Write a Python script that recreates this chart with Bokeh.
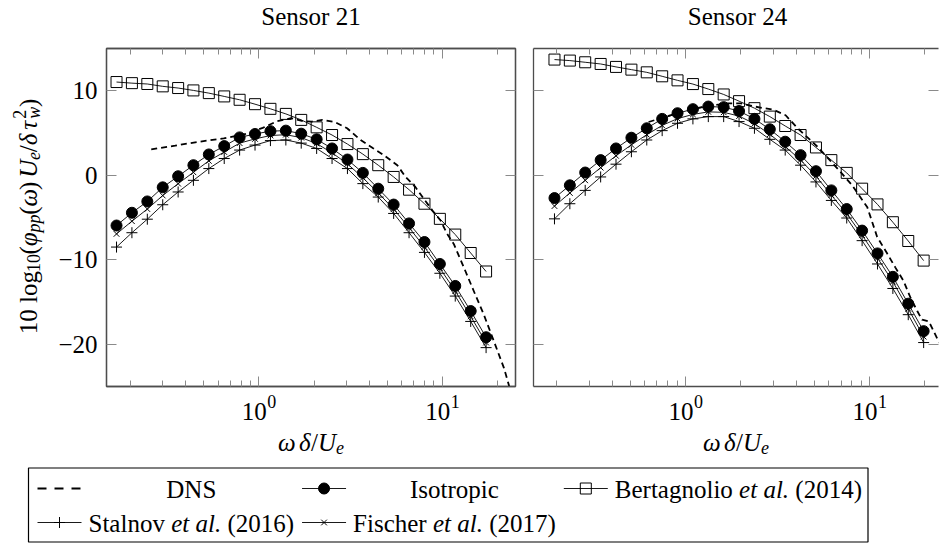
import math
from bokeh.plotting import figure
from bokeh.models import Range1d, LinearAxis, LogAxis, FixedTicker, Label
from bokeh.layouts import column, row
from bokeh.embed import file_html
from bokeh.resources import INLINE

# ---------------- data ----------------
panel_titles = ["Sensor 21", "Sensor 24"]
x_major_ticks = [1, 10]
x_major_exps = ["0", "1"]
x_minor_ticks = [0.2, 0.3, 0.4, 0.5, 0.6, 0.7, 0.8, 0.9, 2, 3, 4, 5, 6, 7, 8, 9, 20]
y_ticks = [-20, -10, 0, 10]
y_tick_labels = ["\u221220", "\u221210", "0", "10"]

# Sensor 21
x21 = [0.1675, 0.2032, 0.2466, 0.2992, 0.3631, 0.4399, 0.5337, 0.6477, 0.7857, 0.9534,
       1.157, 1.404, 1.703, 2.067, 2.508, 3.043, 3.692, 4.479, 5.435, 6.595,
       8.002, 9.71, 11.78, 14.30, 17.35]
iso21 = [-5.95, -4.44, -3.10, -1.43, -0.12, 1.19, 2.46, 3.45, 4.48, 4.88,
         5.22, 5.28, 4.92, 4.25, 3.17, 1.86, 0.28, -1.59, -3.47, -5.7,
         -7.9, -10.5, -13.1, -16.07, -19.17]
bert21 = [11.03, 10.9, 10.8, 10.52, 10.32, 10.04, 9.72, 9.33, 8.93, 8.41,
          7.86, 7.26, 6.55, 5.67, 4.76, 3.69, 2.5, 1.19, -0.2, -1.71,
          -3.37, -5.16, -7.02, -9.2, -11.39]
stal21 = [-8.5, -6.8, -5.2, -3.49, -1.98, -0.6, 0.79, 1.98, 2.98, 3.57,
          4.1, 4.17, 3.8, 3.17, 1.98, 0.79, -0.99, -2.58, -4.52, -6.8,
          -9.13, -11.6, -14.3, -17.3, -20.4]
fis21 = [-6.94, -5.44, -4.0, -2.4, -1.0, 0.35, 1.7, 2.75, 3.8, 4.3,
         4.7, 4.8, 4.45, 3.75, 2.65, 1.35, -0.3, -2.1, -4.0, -6.2,
         -8.5, -11.0, -13.7, -16.7, -19.8]
dns21_x = [0.259, 0.35, 0.45, 0.644, 0.85, 1.05, 1.26, 1.5, 1.75, 1.95, 2.22, 2.6, 3.03,
           3.59, 4.2, 4.81, 5.69, 6.31, 7.14, 8.0, 8.99, 9.8, 10.64, 11.56, 13.12,
           14.86, 16.87, 19.1, 21.7, 23.07, 24.5]
dns21_y = [3.06, 3.5, 3.9, 4.37, 4.9, 5.6, 6.4, 6.75, 6.4, 6.35, 6.55, 6.3, 5.56,
           4.17, 3.2, 2.38, 1.19, -0.2, -1.39, -2.9, -4.37, -5.36, -6.94, -8.13, -10.9,
           -13.7, -16.5, -19.6, -22.8, -24.8, -27.0]

# Sensor 24
x24 = [0.1941, 0.2353, 0.2851, 0.3459, 0.4192, 0.5082, 0.616, 0.7468, 0.9051, 1.0973,
       1.3301, 1.6123, 1.9545, 2.3693, 2.8721, 3.4816, 4.2205, 5.116, 6.202, 7.518,
       9.113, 11.047, 13.391, 16.234, 19.68]
iso24 = [-2.70, -1.19, 0.32, 1.79, 3.17, 4.44, 5.56, 6.67, 7.34, 7.82,
         8.13, 8.06, 7.6, 6.67, 5.44, 3.97, 2.38, 0.48, -1.79, -4.0,
         -6.55, -9.25, -12.02, -15.2, -18.45]
bert24 = [13.69, 13.57, 13.37, 13.17, 12.82, 12.5, 12.18, 11.71, 11.23, 10.79,
          10.2, 9.56, 8.77, 7.94, 6.94, 5.83, 4.76, 3.29, 1.79, 0.28,
          -1.59, -3.45, -5.56, -7.78, -10.1]
stal24 = [-5.16, -3.37, -1.79, -0.2, 1.31, 2.78, 4.17, 5.28, 6.15, 6.67,
          6.94, 6.94, 6.35, 5.56, 4.25, 2.98, 1.19, -0.79, -2.98, -5.06,
          -7.74, -10.5, -13.4, -16.5, -19.8]
fis24 = [-3.65, -2.1, -0.6, 0.9, 2.3, 3.6, 4.8, 5.9, 6.7, 7.2,
         7.5, 7.45, 7.0, 6.1, 4.85, 3.4, 1.8, -0.1, -2.35, -4.55,
         -7.1, -9.8, -12.6, -15.8, -19.1]
dns24_x = [0.63, 0.8, 1.0, 1.3, 1.7, 2.0, 2.35, 3.0, 3.5, 4.05, 5.2, 6.95, 8.05, 9.73,
           11.0, 12.5, 13.8, 15.3, 16.7, 18.2, 19.3, 21.0, 23.3, 25.0]
dns24_y = [6.3, 7.0, 7.6, 8.2, 8.5, 8.5, 8.15, 7.75, 7.1, 5.6, 3.4, 0.4, -1.2, -3.8,
           -7.3, -9.3, -10.9, -12.5, -14.5, -16.1, -17.1, -17.3, -19.3, -20.5]

# ---------------- styling ----------------
FONT = "Liberation Serif"
FS = 25
SS = 18
FRAME = "#4d4d4d"
TICK = "#8a8a8a"
FIX = 7  # measured offset of Bokeh's alphabetic baseline

RG = {' ': 250, '(': 333, ')': 333, '.': 250, '/': 278, 'B': 667, 'D': 722, 'F': 556,
      'I': 333, 'N': 722, 'S': 556, 'U': 722, 'a': 444, 'c': 444, 'e': 444, 'g': 500,
      'h': 500, 'i': 278, 'l': 278, 'n': 500, 'o': 500, 'p': 500, 'r': 333, 's': 389,
      't': 278, 'v': 500, '\u2212': 564}
for d in "0123456789":
    RG[d] = 500
IT = {' ': 250, '.': 250, 'a': 500, 'e': 444, 'l': 278, 't': 278, 'p': 500, 'w': 667,
      'U': 722, '\u03c6': 560, '\u03c9': 680, '\u03b4': 480, '\u03c4': 440}


def tw(text, italic, size):
    tab = IT if italic else RG
    return sum(tab.get(ch, 500) for ch in text) * size / 1000.0


def mk_label(x, y, text, italic=False, size=FS, align="left", angle=0.0, units="data",
             x_units=None, x_offset=0.0):
    if angle == 0.0:
        y = y + FIX
    else:
        x = x - FIX
    return Label(x=x, y=y, x_units=x_units or units, y_units=units, text=text,
                 text_font=FONT, text_font_size=f"{size}px",
                 text_font_style="italic" if italic else "normal",
                 text_color="black", text_align=align, text_baseline="alphabetic",
                 angle=angle, x_offset=x_offset)


def piece_adv(pc):
    t, it, sz, sh, adv = pc
    return tw(t, it, sz) if adv is None else adv


def pieces_len(pcs):
    return sum(piece_adv(pc) for pc in pcs)


def place_h(fig, pcs, x0, y0, units="data"):
    x = x0
    for pc in pcs:
        t, it, sz, sh, adv = pc
        core = t.strip(" ")
        if core:
            lead = len(t) - len(t.lstrip(" "))
            fig.add_layout(mk_label(x + lead * 0.25 * sz, y0 - sh, core, it, sz, units=units))
        x += piece_adv(pc)
    return x


def place_v(fig, pcs, base_x, y0):
    y = y0
    for pc in pcs:
        t, it, sz, sh, adv = pc
        if t.strip():
            fig.add_layout(mk_label(base_x + sh, y, t, it, sz, angle=math.pi / 2))
        y += piece_adv(pc)
    return y


def strip(width, height, xr=None, log=False, mb_l=0, mb_r=0):
    kw = dict(width=width, height=height, output_backend="svg", toolbar_location=None,
              title=None, min_border_left=mb_l, min_border_right=mb_r,
              min_border_top=0, min_border_bottom=0,
              x_axis_location=None, y_axis_location=None, outline_line_color=None,
              y_range=Range1d(0, height))
    if log:
        kw["x_axis_type"] = "log"
    kw["x_range"] = xr if xr is not None else Range1d(0, width)
    f = figure(**kw)
    f.xgrid.visible = False
    f.ygrid.visible = False
    return f


def style_axis(ax, ticker, show_labels, line=True):
    ax.ticker = ticker
    ax.axis_line_color = FRAME if line else None
    ax.axis_line_width = 1.3
    ax.major_tick_in = 10
    ax.major_tick_out = 0
    ax.minor_tick_in = 6
    ax.minor_tick_out = 0
    ax.major_tick_line_color = TICK
    ax.minor_tick_line_color = TICK
    ax.major_tick_line_width = 1
    ax.minor_tick_line_width = 1
    if show_labels:
        ax.major_label_text_font = FONT
        ax.major_label_text_font_size = f"{FS}px"
        ax.major_label_text_color = "black"
        ax.major_label_standoff = 9
    else:
        ax.major_label_text_font_size = "1px"
        ax.major_label_text_color = None
        ax.major_label_standoff = 0


PH = 344  # panel figure height (top 4 + frame 338 + bottom 2)
xlabel_pcs = [("\u03c9", True, FS, 0, None), ("", False, FS, 0, 4),
              ("\u03b4", True, FS, 0, None), ("/", False, FS, 0, None),
              ("U", True, FS, 0, None), ("e", True, SS, 5, None)]
ylabel_pcs = [("10 log", False, FS, 0, None), ("10", False, SS, 5, None),
              ("(", False, FS, 0, None), ("\u03c6", True, FS, 0, None),
              ("pp", True, SS, 5, None), ("(", False, FS, 0, None),
              ("\u03c9", True, FS, 0, None), (")", False, FS, 0, None),
              ("", False, FS, 0, 4), ("U", True, FS, 0, None),
              ("e", True, SS, 5, None), ("/", False, FS, 0, None),
              ("\u03b4", True, FS, 0, None), ("", False, FS, 0, 4),
              ("\u03c4", True, FS, 0, None), ("2", False, SS, -9, 0),
              ("w", True, SS, 5, None), (")", False, FS, 0, None)]


def panel(idx, width, xr, mb_l, mb_r, xs, iso, bert, stal, fis, dx, dy):
    first = idx == 0
    p = figure(width=width, height=PH, x_axis_type="log", title=None,
               x_range=Range1d(*xr), y_range=Range1d(-25, 15),
               output_backend="svg", toolbar_location=None,
               min_border_left=mb_l, min_border_right=mb_r,
               min_border_top=4, min_border_bottom=2)
    p.xgrid.visible = False
    p.ygrid.visible = False
    xt = FixedTicker(ticks=x_major_ticks, minor_ticks=x_minor_ticks)
    yt = FixedTicker(ticks=y_ticks, minor_ticks=[])
    bottom = p.xaxis[0]
    left = p.yaxis[0]
    top = LogAxis()
    right = LinearAxis()
    p.add_layout(top, "above")
    p.add_layout(right, "right")
    style_axis(bottom, xt, False)
    style_axis(top, xt, False)
    style_axis(left, yt, first)
    style_axis(right, yt, False, line=first)
    if first:
        left.major_label_overrides = {t: s for t, s in zip(y_ticks, y_tick_labels)}
        p.outline_line_color = FRAME
        p.outline_line_width = 1.3
    else:
        p.outline_line_color = None

    # series (legend order)
    p.line(dx, dy, line_color="black", line_width=1.8, line_dash="6 4")
    p.line(xs, iso, line_color="black", line_width=0.9)
    p.scatter(xs, iso, marker="circle", size=11, fill_color="black", line_color="black")
    p.line(xs, bert, line_color="black", line_width=0.9)
    p.scatter(xs, bert, marker="square", size=11, fill_color=None, line_color="black",
              line_width=1)
    p.line(xs, stal, line_color="black", line_width=0.9)
    p.scatter(xs, stal, marker="cross", size=11, line_color="black", line_width=1)
    p.line(xs, fis, line_color="black", line_width=0.9)
    p.scatter(xs, fis, marker="x", size=8, line_color="black", line_width=1)
    return p


# row 1: y-label strip + two panels (picture x: frames 106-515 and 533-938)
p1 = panel(0, 474, (0.1477, 25.1), 56, 9, x21, iso21, bert21, stal21, fis21,
           dns21_x, dns21_y)
p2 = panel(1, 415, (0.1493, 23.7), 9, 1, x24, iso24, bert24, stal24, fis24,
           dns24_x, dns24_y)
ystrip = strip(50, PH)
Ly = pieces_len(ylabel_pcs)
place_v(ystrip, ylabel_pcs, 35, (PH - 2 - 169) - Ly / 2)

# title strip (picture y 0-44)
TH = 44
tstrip = strip(939, TH)
title_cx = [310.5, 737]
for cx, t in zip(title_cx, panel_titles):
    tstrip.add_layout(mk_label(cx, TH - 22.5, t, align="center"))

# bottom strips (picture y 388-464): x tick labels and x labels
BTOP = 388
BH = 76
b1 = strip(524, BH, xr=p1.x_range, log=True, mb_l=106, mb_r=9)
b2 = strip(415, BH, xr=p2.x_range, log=True, mb_l=9, mb_r=1)
for bf, fw in ((b1, 409), (b2, 405)):
    for t, e in zip(x_major_ticks, x_major_exps):
        wb = tw("10", False, FS)
        we = tw(e, False, SS)
        tot = wb + we
        bf.add_layout(mk_label(t, BTOP + BH - 418, "10", False, FS,
                               x_offset=-tot / 2))
        bf.add_layout(mk_label(t, BTOP + BH - 408, e, False, SS,
                               x_offset=-tot / 2 + wb + 0.5))
    L = pieces_len(xlabel_pcs)
    place_h(bf, xlabel_pcs, fw / 2 - L / 2, BTOP + BH - 449, units="screen")

# ---------------- legend (picture y 464-543) ----------------
LTOP = 464
LH = 79
leg = strip(939, LH)


def gy(py):
    return LTOP + LH - py


legend_entries = [
    ("dns", [("DNS", False)]),
    ("iso", [("Isotropic", False)]),
    ("bert", [("Bertagnolio ", False), ("et al.", True), (" (2014)", False)]),
    ("stal", [("Stalnov ", False), ("et al.", True), (" (2016)", False)]),
    ("fis", [("Fischer ", False), ("et al.", True), (" (2017)", False)]),
]


def ent_w(pcs):
    return sum(tw(t, it, FS) for t, it in pcs)


ents = dict(legend_entries)
cols = [["dns", "stal"], ["iso", "fis"], ["bert"]]
BOX_L = 28
IMG_W = 44
row_base = [496, 530]
row_mid = [488, 522]
x = BOX_L + 9
for col in cols:
    W = max(ent_w(ents[k]) for k in col)
    for r, k in enumerate(col):
        xa, xb = x, x + IMG_W
        ym = gy(row_mid[r])
        xm = (xa + xb) / 2
        if k == "dns":
            leg.line([xa, xb], [ym, ym], line_color="black", line_width=1.8,
                     line_dash="9 8")
        else:
            leg.line([xa, xb], [ym, ym], line_color="black", line_width=0.9)
            if k == "iso":
                leg.scatter([xm], [ym], marker="circle", size=11, fill_color="black",
                            line_color="black")
            elif k == "bert":
                leg.scatter([xm], [ym], marker="square", size=11, fill_color=None,
                            line_color="black", line_width=1)
            elif k == "stal":
                leg.scatter([xm], [ym], marker="cross", size=11, line_color="black",
                            line_width=1)
            else:
                leg.scatter([xm], [ym], marker="x", size=8, line_color="black",
                            line_width=1)
        tx = xb + 7 + (W - ent_w(ents[k])) / 2
        pcs = [(t, it, FS, 0, None) for t, it in ents[k]]
        place_h(leg, pcs, tx, gy(row_base[r]))
    x = xb + 7 + W + 8
box_r = x - 2
leg.quad(left=[BOX_L], right=[box_r], top=[gy(467.5)], bottom=[gy(541.5)],
         fill_color=None, line_color="black", line_width=1.2)

layout = column(tstrip, row(ystrip, p1, p2), row(b1, b2), leg)
open("out.html", "w").write(file_html(layout, INLINE))
